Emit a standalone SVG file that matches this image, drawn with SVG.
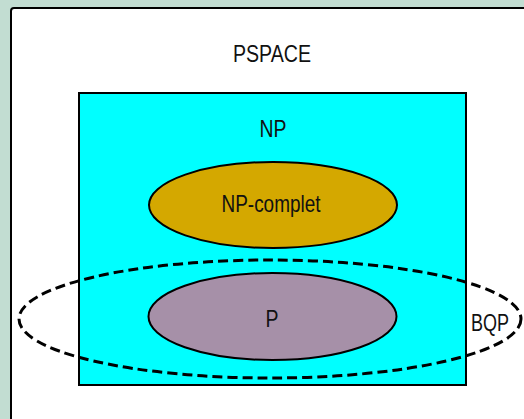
<svg xmlns="http://www.w3.org/2000/svg" width="524" height="419" viewBox="0 0 524 419">
<style>
text{font-family:"Liberation Sans",Arial,sans-serif;font-size:24px;fill:#111;text-anchor:middle}
.set{stroke:#000;stroke-width:2}
</style>
<rect width="524" height="419" fill="#c2ddd2"/>
<g id="pspace">
<rect x="11" y="8" width="530" height="430" rx="3" fill="#fff" stroke="#000" stroke-width="2"/>
<text x="272" y="62" textLength="78" lengthAdjust="spacingAndGlyphs">PSPACE</text>
</g>
<g id="np">
<rect x="79" y="93" width="387" height="292" fill="#00ffff" class="set"/>
<text x="273" y="137" textLength="27" lengthAdjust="spacingAndGlyphs">NP</text>
</g>
<g id="npcomplet">
<ellipse cx="273" cy="205" rx="124" ry="43" fill="#d4a800" class="set"/>
<text x="271" y="212" textLength="99" lengthAdjust="spacingAndGlyphs">NP-complet</text>
</g>
<g id="p">
<ellipse cx="272.5" cy="316.5" rx="124" ry="43.5" fill="#a690a8" class="set"/>
<text x="272" y="327" textLength="13" lengthAdjust="spacingAndGlyphs">P</text>
</g>
<g id="bqp">
<ellipse cx="270" cy="319" rx="251" ry="59" fill="none" stroke="#000" stroke-width="3" stroke-dasharray="10,5"/>
<text x="490" y="330.5" textLength="38" lengthAdjust="spacingAndGlyphs">BQP</text>
</g>
<g id="connectors"/>
</svg>
